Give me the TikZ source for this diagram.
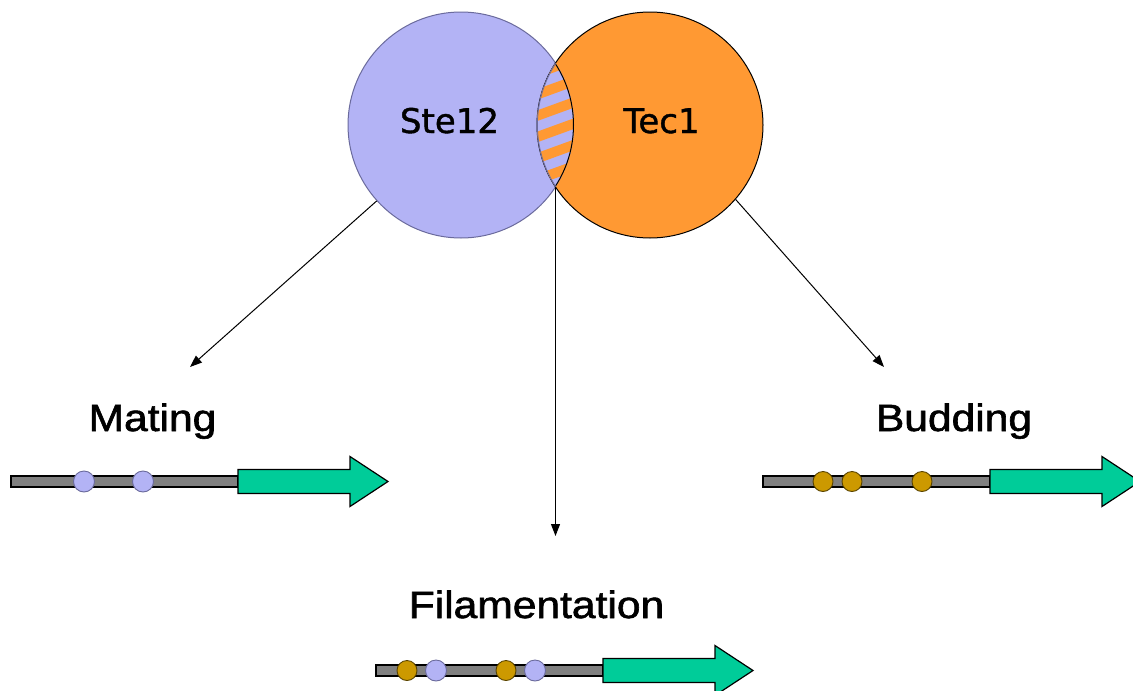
\documentclass[tikz,border=0pt]{standalone}
\usepackage{fontspec}
\setmainfont{Liberation Sans}[FakeBold=1.5]
\newfontfamily\factorfont{DejaVu Sans}[FakeBold=1.2]
\usetikzlibrary{arrows.meta}

\definecolor{steblue}{HTML}{B3B3F5}
\definecolor{steline}{HTML}{6A6A9C}
\definecolor{tecorange}{HTML}{FF9933}
\definecolor{genegreen}{HTML}{00CC99}
\definecolor{bargray}{HTML}{808080}
\definecolor{sitegold}{HTML}{CC9900}
\definecolor{goldline}{HTML}{5A4400}

\newcommand{\widetext}[1]{\scalebox{1.12}[1]{#1}}

\tikzset{
  factor/.style={circle, minimum size=226pt, inner sep=0pt, line width=1pt},
  factorname/.style={font=\factorfont\fontsize{34}{40}\selectfont, anchor=base, inner sep=0pt},
  process/.style={font=\fontsize{38}{44}\selectfont, anchor=base, inner sep=0pt},
  conn/.style={-{Triangle[length=12pt,width=9pt]}, line width=1pt},
  dna/.style={fill=bargray, draw=black, line width=1.2pt},
  orf/.style={fill=genegreen, draw=black, line width=1.2pt},
  stesite/.style={circle, fill=steblue, draw=steline, minimum size=21pt, inner sep=0pt, line width=0.9pt},
  tecsite/.style={circle, fill=sitegold, draw=goldline, minimum size=20pt, inner sep=0pt, line width=0.9pt},
  gene/.pic={
    \draw[dna] (0,-5.5) rectangle (227,5.5);
    \draw[orf] (227,-12) -- (339,-12) -- (339,-25) -- (377,0)
               -- (339,25) -- (339,12) -- (227,12) -- cycle;
  }
}

\begin{document}
\begin{tikzpicture}[x=1pt,y=-1pt]
\useasboundingbox (0,0) rectangle (1133,691);
\clip (0,0) rectangle (1133,691);
\fill[white] (0,0) rectangle (1133,691);

% the two transcription factors
\node[factor, fill=steblue, draw=steline] (ste) at (461,125) {};
\node[factor, fill=tecorange, draw=black] (tec) at (650,125) {};

% shared region: striped overlap
\begin{scope}
  \clip (ste.center) circle (113pt);
  \clip (tec.center) circle (113pt);
  \fill[steblue] (520,50) rectangle (590,200);
  \foreach \k in {-6,...,6}
    \fill[tecorange, rotate around={20:(555.5,125)}]
      (470,125+20*\k) rectangle (640,135+20*\k);
  \draw[black, line width=2pt] (ste.center) circle (113pt);
  \draw[steline, line width=1.6pt] (tec.center) circle (113pt);
\end{scope}

\node[factorname] (steName) at (449.5,133) {Ste12};
\node[factorname] (tecName) at (661.5,133) {Tec1};

% connectors to the target programs
\coordinate (lensBottom) at (555.5,187);
\coordinate (matingTip) at (190,367);
\coordinate (filTip) at (555.5,536);
\coordinate (buddingTip) at (884,367);
\draw[conn] (ste.222) -- (matingTip);
\draw[conn] (lensBottom) -- (filTip);
\draw[conn] (tec.319) -- (buddingTip);

% program labels
\node[process] (mating) at (152.5,431) {\widetext{Mating}};
\node[process] (budding) at (954,431) {\widetext{Budding}};
\node[process] (filament) at (536.5,618) {\widetext{Filamentation}};

% promoter / gene constructs
\pic at (11,481.5) {gene};
\node[stesite] (m1) at (84,481.5) {};
\node[stesite] (m2) at (143,481.5) {};

\pic at (763,481.5) {gene};
\node[tecsite] (b1) at (823,481.5) {};
\node[tecsite] (b2) at (852,481.5) {};
\node[tecsite] (b3) at (922,481.5) {};

\pic at (376,670.5) {gene};
\node[tecsite] (f1) at (407,670.5) {};
\node[stesite] (f2) at (436,670.5) {};
\node[tecsite] (f3) at (506,670.5) {};
\node[stesite] (f4) at (535,670.5) {};
\end{tikzpicture}
\end{document}
